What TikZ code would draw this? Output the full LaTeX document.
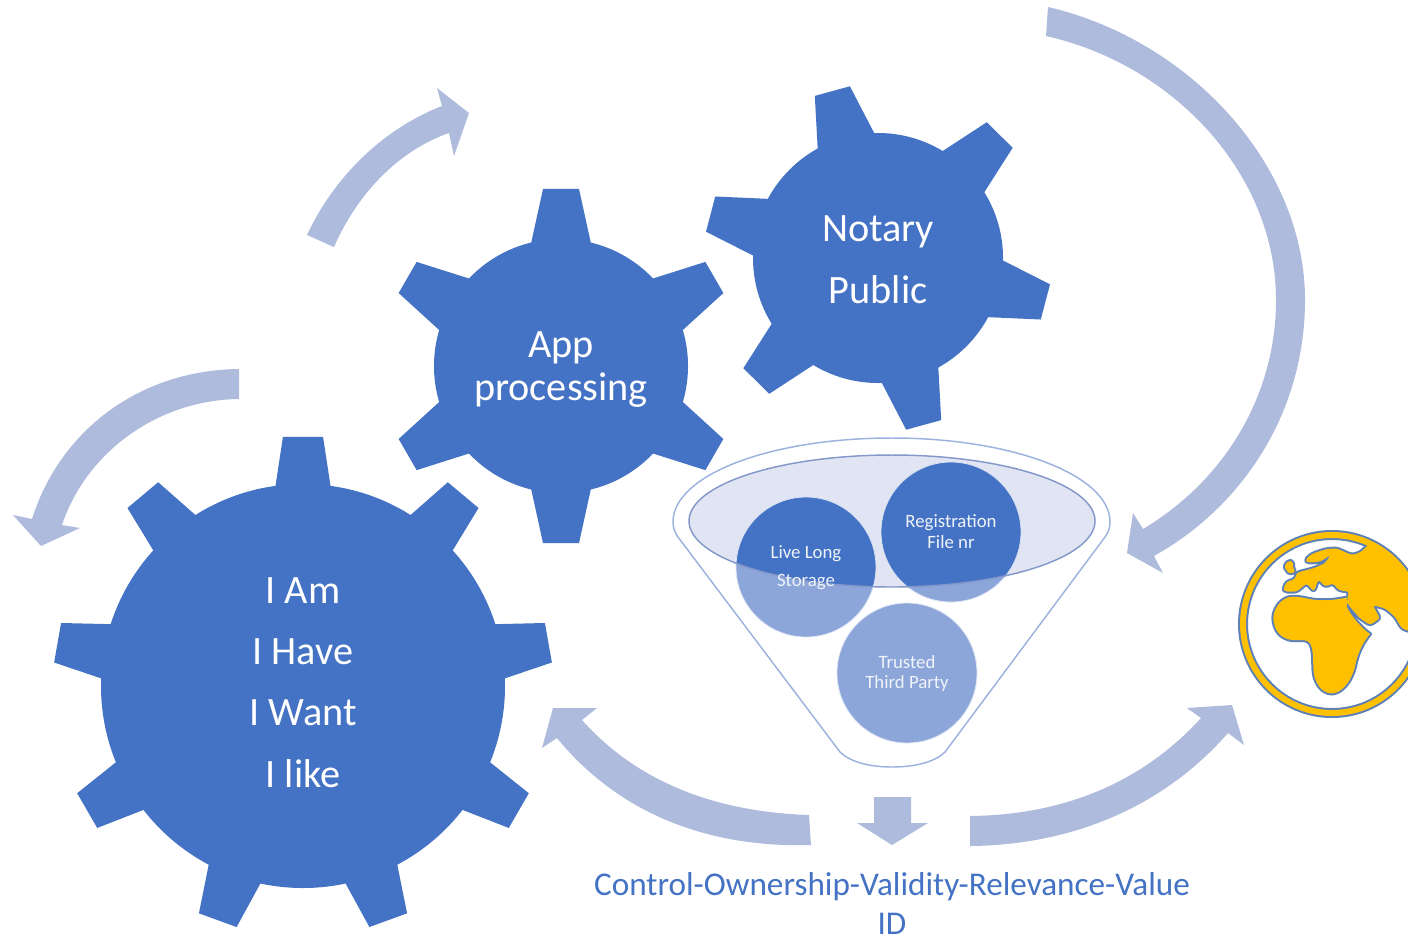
\documentclass[tikz,border=0pt]{standalone}
\usepackage{fontspec}
\setmainfont{Carlito}
\usetikzlibrary{calc}
\definecolor{gearblue}{HTML}{4472C4}
\definecolor{arrowblue}{HTML}{AEBBDD}
\definecolor{lightblue}{HTML}{8CA6DA}
\definecolor{funnelline}{HTML}{9DB2DF}
\definecolor{lavender}{HTML}{E1E5F3}
\definecolor{ellline}{HTML}{8498CB}
\definecolor{globeyellow}{HTML}{FFC000}
\definecolor{globeline}{HTML}{5D80B6}
\newcommand{\gearshape}[8]{%
  % cx cy R tipR n start tiphalf basehalf
  \fill[gearblue] (#1,#2) circle[radius=#3];
  \pgfmathsetmacro{\gstep}{360/#5}
  \pgfmathtruncatemacro{\glast}{#5-1}
  \foreach \gi in {0,...,\glast}{
    \pgfmathsetmacro{\ga}{-(#6+\gi*\gstep)}
    \fill[gearblue]
      ($(#1,#2)+({\ga-#8}:{#3-2} and {#3-2})$) --
      ($(#1,#2)+({\ga-#7}:{#4} and {#4})$) --
      ($(#1,#2)+({\ga+#7}:{#4} and {#4})$) --
      ($(#1,#2)+({\ga+#8}:{#3-2} and {#3-2})$) -- cycle;
  }%
}
\newcommand{\globeland}{%
  (205,262) .. controls (178,270) and (160,300) .. (160,325)
    .. controls (162,360) and (180,385) .. (215,390)
    .. controls (240,392) and (260,385) .. (270,400)
    .. controls (285,425) and (275,480) .. (285,505)
    .. controls (295,535) and (315,552) .. (340,550)
    .. controls (370,545) and (395,510) .. (405,470)
    .. controls (412,430) and (430,395) .. (450,372)
    .. controls (425,355) and (395,320) .. (380,290)
    -- (385,262)
    .. controls (345,270) and (320,272) .. (300,270)
    .. controls (270,272) and (240,255) .. (205,262) -- cycle
  [rounded corners=2.2pt]
  (190,235) -- (200,215) -- (225,208) -- (230,188) -- (280,175) -- (315,160)
    -- (332,135) -- (300,155) -- (265,158) -- (255,150) -- (275,132) -- (315,118)
    -- (350,115) -- (395,135) -- (420,128) -- (445,105) -- (490,70) -- (640,190)
    -- (640,380) -- (564,362) -- (545,355) -- (525,320) -- (495,295) -- (458,285)
    -- (480,325) -- (450,345) -- (420,325) -- (385,285) -- (380,270) -- (388,245)
    -- (355,240) -- (340,220) -- (315,230) -- (295,208) -- (282,245) -- (260,220)
    -- (230,245) -- (195,245) -- cycle
  [rounded corners=1.5pt]
  (192,170) -- (205,152) -- (220,155) -- (218,172) -- (226,185) -- (208,192) -- cycle
}
\tikzset{
  arrowshape/.style={fill=arrowblue,draw=none},
  geartext/.style={text=white,anchor=base,font=\fontsize{30.2pt}{34pt}\selectfont,inner sep=0pt},
  smalltext/.style={text=white!92!gearblue,anchor=base,font=\fontsize{14.1pt}{16pt}\selectfont,inner sep=0pt},
  captiontext/.style={text=gearblue,anchor=base,font=\fontsize{24.9pt}{29pt}\selectfont,inner sep=0pt},
  ball/.style={draw=white!70!lightblue,line width=0.6pt},
}
\begin{document}
\begin{tikzpicture}[x=0.75pt,y=-0.75pt]
\useasboundingbox (0,0) rectangle (1408,940);
\clip (0,0) rectangle (1408,940);
\fill[white] (0,0) rectangle (1408,940);

% curved arrows
\fill[arrowshape] (1048,7) .. controls (1190,40) and (1305,165) .. (1305,300)
  .. controls (1305,410) and (1245,505) .. (1154,556)
  -- (1163,573) -- (1127,553) -- (1133,513) -- (1143,529)
  .. controls (1225,480) and (1276,395) .. (1276,300)
  .. controls (1276,175) and (1175,65) .. (1046,36) -- cycle;
\fill[arrowshape] (307,235) .. controls (335,175) and (385,128) .. (442,106)
  -- (437,88) -- (469,113) -- (454,156) -- (449,133)
  .. controls (400,150) and (358,192) .. (334,247) -- cycle;
\fill[arrowshape] (239,369) .. controls (140,370) and (60,430) .. (32,519)
  -- (13,515) -- (41,546) -- (80,528) -- (62,525)
  .. controls (85,455) and (155,400) .. (239,399) -- cycle;
\fill[arrowshape] (809,815) .. controls (720,812) and (640,785) .. (582,720)
  -- (597,708) -- (553,708) -- (542,748) -- (557,738)
  .. controls (620,815) and (710,848) .. (811,845) -- cycle;
\fill[arrowshape] (970,816) .. controls (1060,815) and (1140,785) .. (1201,718)
  -- (1187,708) -- (1232,705) -- (1244,745) -- (1228,733)
  .. controls (1165,805) and (1075,845) .. (970,846) -- cycle;
\fill[arrowshape] (874,797) -- (911,797) -- (911,823) -- (928,823) -- (892,845)
  -- (857,823) -- (874,823) -- cycle;

% gears
\gearshape{303}{686}{202}{250}{9}{90}{4.6}{8}
\gearshape{561}{366}{127}{178}{6}{90}{5.8}{14}
\gearshape{878}{258}{125}{174}{6}{105.3}{6}{14}

\node[geartext] (iam) at (303,603) {I Am};
\node[geartext] (ihave) at (303,664) {I Have};
\node[geartext] (iwant) at (303,725) {I Want};
\node[geartext] (ilike) at (303,787) {I like};
\node[geartext] (app) at (561,357) {App};
\node[geartext] (proc) at (561,400) {processing};
\node[geartext] (notary) at (878,241) {Notary};
\node[geartext] (public) at (878,303) {Public};

% funnel
\draw[funnelline,line width=1.1pt,line join=round] (673,522)
  .. controls (673,475) and (770,438) .. (892,438)
  .. controls (1012,438) and (1110,475) .. (1110,522)
  .. controls (1110,528) and (1108,533) .. (1105,537)
  -- (945,752) .. controls (935,762) and (915,767) .. (892,767)
  .. controls (870,767) and (850,762) .. (840,752)
  -- (678,537) .. controls (675,533) and (673,528) .. (673,522) -- cycle;
\fill[lavender] (892,521) ellipse[x radius=203,y radius=66];
\fill[lightblue] (806,567) circle[radius=70];
\fill[lightblue] (951,532) circle[radius=70];
\fill[lightblue] (907,673) circle[radius=70];
\begin{scope}
  \clip (892,521) ellipse[x radius=203,y radius=66];
  \fill[gearblue] (806,567) circle[radius=70];
  \fill[gearblue] (951,532) circle[radius=70];
\end{scope}
\draw[ball] (806,567) circle[radius=70];
\draw[ball] (951,532) circle[radius=70];
\draw[ball] (907,673) circle[radius=70];
\draw[ellline,line width=1.1pt] (892,521) ellipse[x radius=203,y radius=66];
\node[smalltext] (live) at (806,558) {Live Long};
\node[smalltext] (stor) at (806,586) {Storage};
\node[smalltext] (reg) at (951,527) {Registration};
\node[smalltext] (file) at (951,548) {File nr};
\node[smalltext] (trust) at (907,668) {Trusted};
\node[smalltext] (third) at (907,688) {Third Party};

% caption
\node[captiontext] (cap) at (892,895) {Control-Ownership-Validity-Relevance-Value};
\node[captiontext] (id) at (892,934) {ID};

% globe: outlines first, fills on top, so that land and ring merge
\begin{scope}[shift={(1220,510)},x=0.25pt,y=-0.25pt,line join=round]
  \draw[globeline,line width=3pt] (336,342) circle[radius=276] (336,342) circle[radius=258];
  \begin{scope}
    \clip (336,342) circle[radius=262];
    \draw[globeline,line width=3pt] \globeland;
    \fill[globeyellow] \globeland;
  \end{scope}
  \fill[globeyellow,even odd rule] (336,342) circle[radius=276] (336,342) circle[radius=258];
\end{scope}
\end{tikzpicture}
\end{document}
